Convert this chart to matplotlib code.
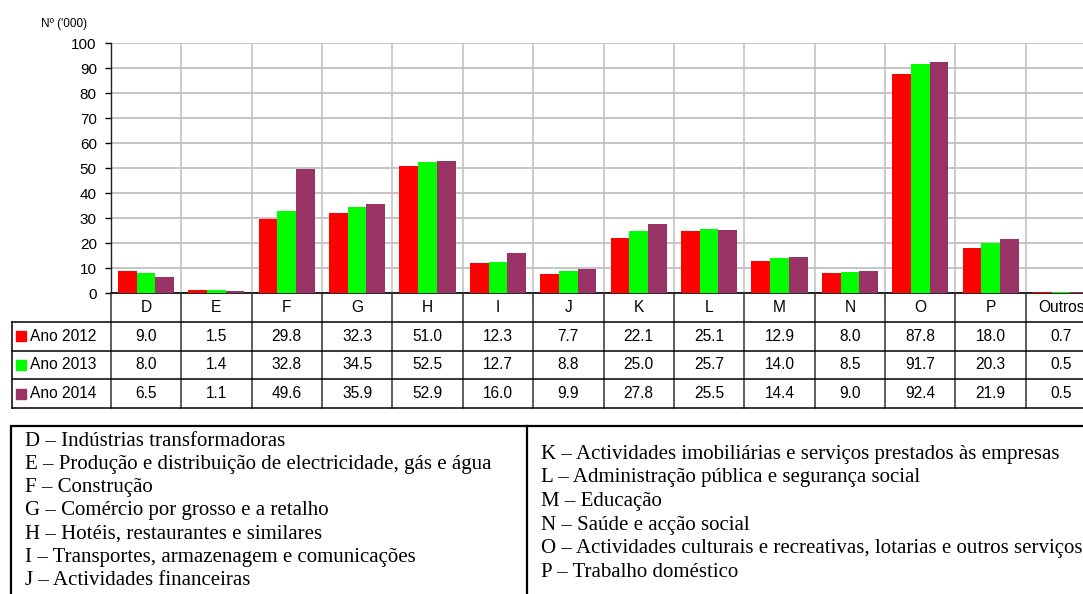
import numpy as np
import matplotlib
matplotlib.use("Agg")
import matplotlib.pyplot as plt
from matplotlib.patches import Rectangle

# Sectores de actividade e valores (milhares)
categorias = ["D", "E", "F", "G", "H", "I", "J", "K", "L", "M", "N", "O", "P", "Outros"]
anos = ["Ano 2012", "Ano 2013", "Ano 2014"]
ano_2012 = [9.0, 1.5, 29.8, 32.3, 51.0, 12.3, 7.7, 22.1, 25.1, 12.9, 8.0, 87.8, 18.0, 0.7]
ano_2013 = [8.0, 1.4, 32.8, 34.5, 52.5, 12.7, 8.8, 25.0, 25.7, 14.0, 8.5, 91.7, 20.3, 0.5]
ano_2014 = [6.5, 1.1, 49.6, 35.9, 52.9, 16.0, 9.9, 27.8, 25.5, 14.4, 9.0, 92.4, 21.9, 0.5]
cores = ["#FF0000", "#00FF00", "#993366"]

legenda_esq = [
    "D – Indústrias transformadoras",
    "E – Produção e distribuição de electricidade, gás e água",
    "F – Construção",
    "G – Comércio por grosso e a retalho",
    "H – Hotéis, restaurantes e similares",
    "I – Transportes, armazenagem e comunicações",
    "J – Actividades financeiras",
]
legenda_dir = [
    "K – Actividades imobiliárias e serviços prestados às empresas",
    "L – Administração pública e segurança social",
    "M – Educação",
    "N – Saúde e acção social",
    "O – Actividades culturais e recreativas, lotarias e outros serviços",
    "P – Trabalho doméstico",
]

W, H = 1083, 594
plt.rcParams["font.family"] = ["Liberation Sans", "DejaVu Sans"]
fig = plt.figure(figsize=(W / 100, H / 100), dpi=100)


def fx(x):
    return x / W


def fy(y):
    return 1 - y / H


# --- grafico de barras ---
x_esq, x_dir = 110.7, 1096.3
y_top, y_zero = 43.3, 293.3
ax = fig.add_axes([fx(x_esq), fy(y_zero), fx(x_dir - x_esq), (y_zero - y_top) / H])
x = np.arange(len(categorias))
largura = 0.267
series = [ano_2012, ano_2013, ano_2014]
for i, (vals, cor) in enumerate(zip(series, cores)):
    ax.bar(x + (i - 1) * largura, vals, largura, color=cor, zorder=3, linewidth=0)

ax.set_xlim(-0.5, len(categorias) - 0.5)
ax.set_ylim(0, 100)
ax.set_yticks(np.arange(0, 101, 10))
ax.set_xticks(np.arange(-0.5, len(categorias), 1), minor=True)
ax.set_xticks([])
ax.grid(axis="y", color="#C0C0C0", linewidth=1.3, zorder=0)
ax.grid(axis="x", which="minor", color="#C8C8C8", linewidth=1.3, zorder=0)
ax.tick_params(axis="y", length=4, width=1, pad=6, labelsize=11, colors="black")
ax.tick_params(axis="x", which="minor", length=0)
for lado in ["top", "right"]:
    ax.spines[lado].set_visible(False)
ax.spines["left"].set_color("#202020")
ax.spines["bottom"].set_color("black")
ax.spines["left"].set_linewidth(1)
ax.spines["bottom"].set_linewidth(1.2)
fig.text(fx(41), fy(24), "Nº ('000)", fontsize=8.5, va="center", ha="left")

# --- tabela de dados ---
y_tab = 408.0
tab = fig.add_axes([fx(x_esq), fy(y_tab), fx(x_dir - x_esq), (y_tab - y_zero) / H])
tab.set_xlim(-0.5, len(categorias) - 0.5)
tab.set_ylim(4, 0)
tab.axis("off")
col_px = 70.4
x_lab = -0.5 - (x_esq - 12) / col_px
cor_linha = "#333333"
for j in range(len(categorias) + 1):
    tab.plot([j - 0.5, j - 0.5], [0, 4], color=cor_linha, lw=1.1, clip_on=False)
for r in [1, 2, 3, 4]:
    tab.plot([x_lab, len(categorias) - 0.5], [r, r], color="black", lw=1.1, clip_on=False)
tab.plot([x_lab, x_lab], [1, 4], color="black", lw=1.1, clip_on=False)

for j, c in enumerate(categorias):
    tab.text(j, 0.5, c, ha="center", va="center", fontsize=11.2)
for r, (nome, vals, cor) in enumerate(zip(anos, series, cores)):
    yy = r + 1.5
    tab.add_patch(Rectangle((x_lab + 4 / col_px, yy - 0.17), 10 / col_px, 0.34,
                            color=cor, clip_on=False))
    tab.text(x_lab + 18 / col_px, yy, nome, ha="left", va="center", fontsize=11.2)
    for j, v in enumerate(vals):
        tab.text(j, yy, f"{v:.1f}", ha="center", va="center", fontsize=11.2)

# --- legenda dos sectores ---
caixa_top, caixa_esq, divisor = 426, 11, 527
fig.add_artist(Rectangle((fx(caixa_esq), fy(H + 5)), fx(W + 10 - caixa_esq),
                         (H + 5 - caixa_top) / H, fill=False, edgecolor="black",
                         lw=1.6, transform=fig.transFigure))
fig.add_artist(plt.Line2D([fx(divisor), fx(divisor)], [fy(caixa_top), 0],
                          color="black", lw=1.6, transform=fig.transFigure))
serif = ["Liberation Serif", "DejaVu Serif"]
for k, linha in enumerate(legenda_esq):
    fig.text(fx(25), fy(445.7 + k * 23.2), linha, family=serif, fontsize=15,
             ha="left", va="baseline")
for k, linha in enumerate(legenda_dir):
    fig.text(fx(541), fy(458.5 + k * 23.7), linha, family=serif, fontsize=15,
             ha="left", va="baseline")

fig.savefig("out.png", dpi=100)
